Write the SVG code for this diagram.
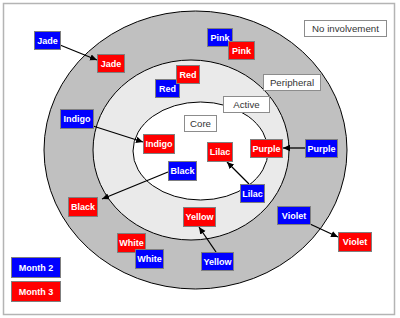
<svg xmlns="http://www.w3.org/2000/svg" width="400" height="318" viewBox="0 0 400 318">
<defs>
<marker id="ah" markerWidth="8" markerHeight="8" refX="7" refY="4" orient="auto" markerUnits="userSpaceOnUse">
<path d="M0,0.8 L7,4 L0,7.2 Z" fill="#000"/>
</marker>
<style>
.b rect{fill:#0000ff;stroke:#7f7f7f;stroke-width:1}
.r rect{fill:#ff0000;stroke:#7f7f7f;stroke-width:1}
.b text,.r text{fill:#fff;font-family:"Liberation Sans",Arial,sans-serif;font-weight:bold;font-size:9px;text-anchor:middle}
.l rect{fill:#fff;stroke:#8c8c8c;stroke-width:1}
.l text{fill:#333;font-family:"Liberation Sans",Arial,sans-serif;font-size:9.7px;text-anchor:middle}
.c line{stroke:#000;stroke-width:1.3;marker-end:url(#ah)}
</style>
</defs>
<rect x="0" y="0" width="400" height="318" fill="#fff"/>
<rect x="3.5" y="3.5" width="391" height="311" fill="#fff" stroke="#b4b4b4" stroke-width="1.5"/>
<g id="rings">
<ellipse cx="195.5" cy="150" rx="151.5" ry="139" fill="#c0c0c0" stroke="#000" stroke-width="1"/>
<ellipse cx="191" cy="150" rx="98" ry="90" fill="#eaeaea" stroke="#000" stroke-width="1"/>
<ellipse cx="200.5" cy="151" rx="67.5" ry="49" fill="#fff" stroke="#000" stroke-width="1"/>
</g>
<g id="labels">
<g id="core" class="l"><rect x="184.5" y="115.5" width="32" height="16"/><text x="200.5" y="127">Core</text></g>
<g id="active" class="l"><rect x="223.5" y="96.5" width="46" height="16"/><text x="246.5" y="108">Active</text></g>
<g id="peripheral" class="l"><rect x="263.5" y="74.5" width="57" height="16"/><text x="292" y="86">Peripheral</text></g>
<g id="noinv" class="l"><rect x="304.5" y="20.5" width="82" height="16"/><text x="345.5" y="32">No involvement</text></g>
</g>
<g id="connectors" class="c">
<line x1="60" y1="45" x2="97" y2="60"/>
<line x1="93" y1="126" x2="143" y2="142"/>
<line x1="305" y1="148" x2="283" y2="148"/>
<line x1="249" y1="184" x2="227" y2="162"/>
<line x1="168" y1="172" x2="102" y2="199"/>
<line x1="216" y1="252" x2="199" y2="227"/>
<line x1="310" y1="224" x2="338" y2="237"/>
</g>
<g id="jade2" class="b"><rect x="34.5" y="31.5" width="26" height="18"/><text x="47.5" y="43.5">Jade</text></g>
<g id="jade3" class="r"><rect x="97.5" y="54.5" width="27" height="18"/><text x="111" y="66.5">Jade</text></g>
<g id="red2" class="b"><rect x="155.5" y="79.5" width="24" height="18"/><text x="167.5" y="91.5">Red</text></g>
<g id="red3" class="r"><rect x="176.5" y="65.5" width="23" height="18"/><text x="188" y="77.5">Red</text></g>
<g id="pink2" class="b"><rect x="207.5" y="28.5" width="25" height="18"/><text x="220" y="40.5">Pink</text></g>
<g id="pink3" class="r"><rect x="228.5" y="41.5" width="26" height="18"/><text x="241.5" y="53.5">Pink</text></g>
<g id="indigo2" class="b"><rect x="60.5" y="109.5" width="33" height="19"/><text x="77" y="122">Indigo</text></g>
<g id="indigo3" class="r"><rect x="143.5" y="134.5" width="31" height="19"/><text x="159" y="147">Indigo</text></g>
<g id="lilac3" class="r"><rect x="207.5" y="142.5" width="25" height="19"/><text x="220" y="155">Lilac</text></g>
<g id="purple3" class="r"><rect x="250.5" y="139.5" width="32" height="18"/><text x="266.5" y="151.5">Purple</text></g>
<g id="purple2" class="b"><rect x="305.5" y="139.5" width="32" height="18"/><text x="321.5" y="151.5">Purple</text></g>
<g id="black2" class="b"><rect x="168.5" y="161.5" width="28" height="19"/><text x="182.5" y="174">Black</text></g>
<g id="lilac2" class="b"><rect x="240.5" y="184.5" width="24" height="18"/><text x="252.5" y="196.5">Lilac</text></g>
<g id="black3" class="r"><rect x="68.5" y="197.5" width="29" height="19"/><text x="83" y="210">Black</text></g>
<g id="yellow3" class="r"><rect x="183.5" y="207.5" width="32" height="19"/><text x="199.5" y="220">Yellow</text></g>
<g id="violet2" class="b"><rect x="277.5" y="206.5" width="33" height="18"/><text x="294" y="218.5">Violet</text></g>
<g id="violet3" class="r"><rect x="338.5" y="232.5" width="33" height="19"/><text x="355" y="245">Violet</text></g>
<g id="white3" class="r"><rect x="117.5" y="233.5" width="28" height="19"/><text x="131.5" y="246">White</text></g>
<g id="white2" class="b"><rect x="135.5" y="249.5" width="28" height="19"/><text x="149.5" y="262">White</text></g>
<g id="yellow2" class="b"><rect x="201.5" y="252.5" width="32" height="18"/><text x="217.5" y="264.5">Yellow</text></g>
<g id="month2" class="b"><rect x="11.5" y="257.5" width="49" height="20"/><text x="36" y="270.5">Month 2</text></g>
<g id="month3" class="r"><rect x="11.5" y="281.5" width="49" height="20"/><text x="36" y="294.5">Month 3</text></g>
</svg>
